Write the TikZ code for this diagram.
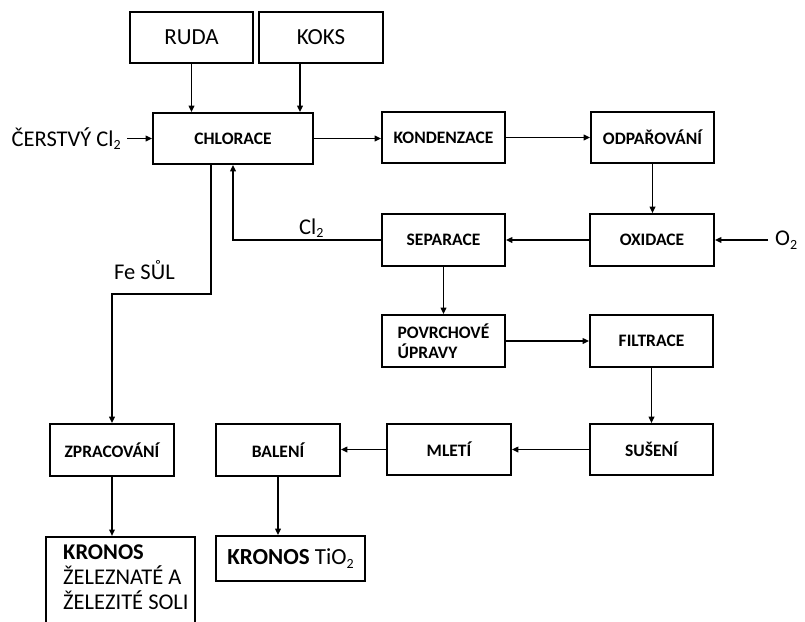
\documentclass[tikz,border=0pt]{standalone}
\usepackage{fontspec}
\setmainfont{Carlito}
\usetikzlibrary{arrows.meta,calc}
% lowered subscript, in the text font
\newcommand{\lowsub}[1]{\raisebox{-0.35ex}{\fontsize{14}{14}\selectfont #1}}
\begin{document}
\begin{tikzpicture}[x=1pt,y=-1pt,
  proc/.style={draw,line width=1.6pt,rectangle,minimum width=123pt,minimum height=51pt,
    inner sep=0pt,font=\fontsize{17.5}{19.5}\selectfont\bfseries,align=center},
  feed/.style={draw,line width=1.6pt,rectangle,minimum width=123pt,minimum height=51pt,
    inner sep=0pt,font=\fontsize{23}{27}\selectfont},
  plain/.style={font=\fontsize{22.5}{27}\selectfont,inner sep=0pt},
  flow/.style={line width=1.6pt,-{Triangle[length=6.5pt,width=5.5pt]}}]
\useasboundingbox (0,0) rectangle (805,621);
\fill[white] (0,0) rectangle (805,621);

% raw materials
\node[feed] (ruda) at (191.5,37.5) {RUDA};
\node[feed,minimum width=124pt] (koks) at (321,37.5) {KOKS};

% main process chain
\node[proc,minimum width=160pt] (chlor) at (233,138.5) {CHLORACE};
\node[proc] (kond) at (443.5,137.5) {KONDENZACE};
\node[proc] (odpar) at (652.5,137.5) {ODPAŘOVÁNÍ};
\node[proc,minimum width=124pt,minimum height=52pt] (oxid) at (652,240) {OXIDACE};
\node[proc,minimum height=52pt] (sep) at (443.5,240) {SEPARACE};
\node[proc,minimum height=52pt,align=left] (povrch) at (443.5,341) {POVRCHOVÉ\\ÚPRAVY};
\node[proc,minimum height=52pt] (filtr) at (651.5,341) {FILTRACE};
\node[proc] (suseni) at (651.5,449.5) {SUŠENÍ};
\node[proc,minimum width=124pt] (mleti) at (449,449.5) {MLETÍ};
\node[proc,minimum width=124pt,minimum height=52pt] (baleni) at (278,450) {BALENÍ};
\node[proc,minimum width=124pt,minimum height=52pt] (zprac) at (112,450) {ZPRACOVÁNÍ};

% products
\node[feed,minimum width=149pt,minimum height=45pt] (tio2) at (290.5,558.5)
  {\textbf{KRONOS} TiO\lowsub{2}};
\node[draw,line width=1.6pt,rectangle,minimum width=149pt,minimum height=110pt,
  inner sep=0pt,anchor=north] (soli) at (120.5,536) {};
\node[plain,anchor=north west,align=left,font=\fontsize{22.5}{25}\selectfont]
  (solitext) at (63,545) {\textbf{KRONOS}\\ŽELEZNATÉ A\\ŽELEZITÉ SOLI};

% external inputs
\node[plain,anchor=east] (cl2in) at (121,138.5) {ČERSTVÝ Cl\lowsub{2}};
\node[plain,anchor=west] (o2in) at (775,240) {O\lowsub{2}};
\coordinate (o2end) at (768,240);

% connectors
\draw[flow] (ruda.south) -- (ruda.south |- chlor.north);
\draw[flow] ([xshift=-21pt]koks.south) -- ([xshift=-21pt]koks.south |- chlor.north);
\draw[flow] ([xshift=6pt]cl2in.east) -- (chlor.west);
\draw[flow] (chlor.east) -- (chlor.east -| kond.west);
\draw[flow] (kond.east) -- (kond.east -| odpar.west);
\draw[flow] (odpar.south) -- (odpar.south |- oxid.north);
\draw[flow] (o2end) -- (oxid.east);
\draw[flow] (oxid.west) -- (sep.east);
\draw[flow] (sep.west) -| (chlor.south);
\draw[flow] (sep.south) -- (povrch.north);
\draw[flow] (povrch.east) -- (povrch.east -| filtr.west);
\draw[flow] (filtr.south) -- (filtr.south |- suseni.north);
\draw[flow] (suseni.west) -- (mleti.east);
\draw[flow] (mleti.west) -- (mleti.west -| baleni.east);
\draw[flow] (baleni.south) -- (baleni.south |- tio2.north);
\draw[flow] (zprac.south) -- (zprac.south |- soli.north);

% iron salt branch
\coordinate (fe1) at ([xshift=-22pt]chlor.south);
\coordinate (fe2) at ($(fe1)+(0,129)$);
\draw[flow] (fe1) -- (fe2) -| (zprac.north);

% stream labels
\node[plain,anchor=south west] (cl2lab) at (299,238) {Cl\lowsub{2}};
\node[plain,anchor=south west] (felab) at (114,280) {Fe SŮL};
\end{tikzpicture}
\end{document}
